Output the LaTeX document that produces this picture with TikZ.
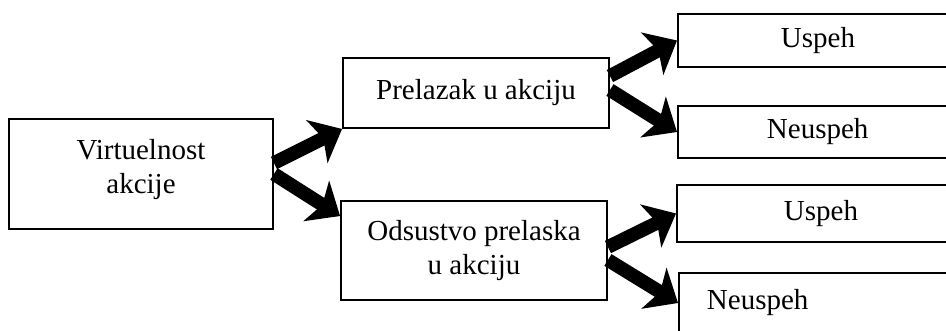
\documentclass[tikz,border=0pt]{standalone}
\usepackage{fontspec}
\setmainfont{Liberation Serif}
\usetikzlibrary{arrows.meta}
\tikzstyle{box}=[rectangle,draw=black,line width=1.1pt,inner sep=0pt,align=center,
  font=\fontsize{16.5}{19.5}\selectfont]
\tikzstyle{leaf}=[box,anchor=west,align=left]
\tikzstyle{fat}=[line width=7.8pt,-{Stealth[length=0.56cm,width=0.95cm,inset=0.14cm]}]

\begin{document}
\begin{tikzpicture}[x=0.02cm,y=-0.02cm]
          \useasboundingbox (0,0) rectangle (946,331);

          \node[box,minimum width=5.28cm,minimum height=2.2cm,text depth=0.3cm] (virt) at (141,174) {Virtuelnost\\akcije};

          \node[box,minimum width=5.32cm,minimum height=1.4cm] (prel) at (476,93) {Prelazak u akciju};
          \path[fat] ([yshift=0.22cm]virt.east) edge (prel.south west);

          \node[box,minimum width=5.32cm,minimum height=1.98cm] (odsu) at (474,250.5) {Odsustvo prelaska\\u akciju};
          \path[fat] (virt.east) edge ([yshift=-0.32cm]odsu.north west);

          \node[leaf,minimum height=1.06cm,inner xsep=2.06cm,text width=1.88cm] (usp1) at (677,40.5) {Uspeh};
          \path[fat] ([yshift=0.34cm]prel.east) edge (usp1.west);

          \node[leaf,minimum height=1.04cm,inner xsep=1.78cm,text width=2.44cm] (neu1) at (677,132) {Neuspeh};
          \path[fat] ([yshift=0.06cm]prel.east) edge (neu1.west);

          \node[leaf,minimum height=1.14cm,inner xsep=2.14cm,text width=1.72cm] (usp2) at (676,213.5) {Uspeh};
          \path[fat] ([yshift=0.07cm]odsu.east) edge (usp2.west);

          \node[leaf,minimum height=1.2cm,inner xsep=0.56cm,text width=4.88cm] (neu2) at (678,303) {Neuspeh};
          \path[fat] ([yshift=-0.19cm]odsu.east) edge (neu2.west);
        \end{tikzpicture}
\end{document}
